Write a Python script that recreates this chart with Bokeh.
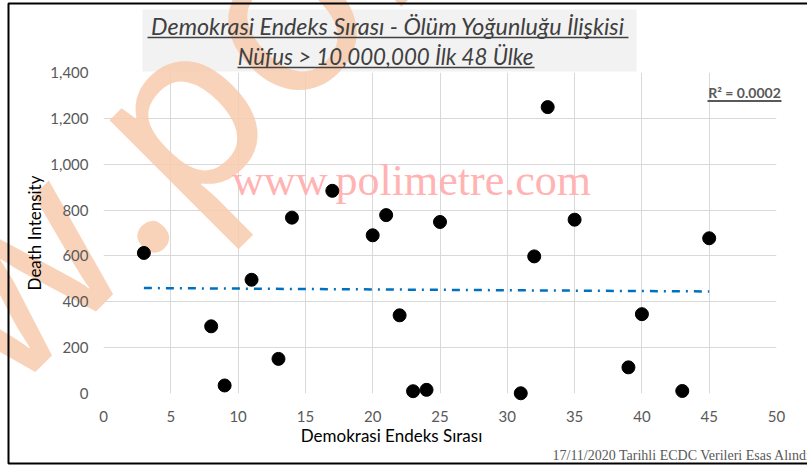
import math
from bokeh.plotting import figure
from bokeh.models import FixedTicker, NumeralTickFormatter
from bokeh.core.properties import value
from bokeh.embed import file_html
from bokeh.resources import INLINE

# ---------------- data ----------------
demokrasi_sirasi = [3, 8, 9, 11, 13, 14, 17, 20, 21, 22, 23, 24, 25, 31, 32, 33, 35, 39, 40, 43, 45]
death_intensity = [613, 293, 35, 496, 151, 767, 884, 690, 778, 341, 10, 16, 748, 1, 598, 1249, 758, 114, 346, 11, 677]
trend_x = [3, 45]
trend_y = [460, 445]
x_ticks = [0, 5, 10, 15, 20, 25, 30, 35, 40, 45, 50]
y_ticks = [0, 200, 400, 600, 800, 1000, 1200, 1400]
title_line1 = "Demokrasi Endeks Sırası - Ölüm Yoğunluğu İlişkisi"
title_line2 = "Nüfus > 10,000,000 İlk 48 Ülke"
r2_text = "R² = 0.0002"
x_label = "Demokrasi Endeks Sırası"
y_label = "Death Intensity"
footer_text = "17/11/2020 Tarihli ECDC Verileri Esas Alındı"
site_text = "www.polimetre.com"

# ---------------- layout ----------------
W, H = 807, 466
MB_L, MB_R, MB_T, MB_B = 103, 31, 72, 73
X0, X1 = 0, 50
Y0, Y1 = 0, 1400

p = figure(width=W, height=H, x_range=(X0, X1), y_range=(Y0, Y1),
           output_backend="svg", toolbar_location=None,
           min_border_left=MB_L, min_border_right=MB_R,
           min_border_top=MB_T, min_border_bottom=MB_B)
p.outline_line_color = None
p.background_fill_color = "white"
p.border_fill_color = "white"

# canvas-pixel -> data helpers (used only to place decorations)
FL, FR = MB_L, W - MB_R
FT, FB = MB_T, H - MB_B


def dx(px):
    return X0 + (px - FL) / (FR - FL) * (X1 - X0)


def dy(py):
    return Y0 + (FB - py) / (FB - FT) * (Y1 - Y0)


def txt(px, py, s, font, size_px, color, align="center", style="normal",
        angle=0.0, alpha=1.0, level="annotation"):
    # (px, py): point on the text's baseline; text is drawn with 'middle' baseline
    off = 0.33 * size_px
    cx = px - off * math.sin(angle)
    cy = py - off * math.cos(angle)
    p.text(x=[dx(cx)], y=[dy(cy)], text=[s], text_font=value(font),
           text_font_size=value(f"{size_px}px"), text_color=color, text_alpha=alpha,
           text_align=align, text_baseline="middle", text_font_style=style,
           angle=angle, level=level)


def hline(px0, px1, py, color, width):
    p.segment(x0=[dx(px0)], y0=[dy(py)], x1=[dx(px1)], y1=[dy(py)],
              line_color=color, line_width=width, level="annotation")


# grid
for g in (p.xgrid, p.ygrid):
    g.grid_line_color = "#d9d9d9"
    g.grid_line_width = 1
p.xgrid.ticker = FixedTicker(ticks=x_ticks)
p.ygrid.ticker = FixedTicker(ticks=y_ticks)

# axes
for ax in (p.xaxis, p.yaxis):
    ax.axis_line_color = None
    ax.major_tick_line_color = None
    ax.minor_tick_line_color = None
    ax.major_tick_in = 0
    ax.major_tick_out = 0
    ax.major_label_text_font = "Lato"
    ax.major_label_text_font_size = "15px"
    ax.major_label_text_color = "#595959"
    ax.level = "overlay"
p.xaxis.ticker = FixedTicker(ticks=x_ticks)
p.yaxis.ticker = FixedTicker(ticks=y_ticks)
p.yaxis.formatter = NumeralTickFormatter(format="0,0")
p.xaxis.major_label_standoff = 17
p.yaxis.major_label_standoff = 15
p.yaxis.axis_label = y_label
p.yaxis.axis_label_text_font = "Lato"
p.yaxis.axis_label_text_font_size = "17px"
p.yaxis.axis_label_text_font_style = "normal"
p.yaxis.axis_label_text_color = "#000000"
p.yaxis.axis_label_standoff = 2

# title background box
p.quad(left=[dx(142)], right=[dx(636)], top=[dy(9)], bottom=[dy(71)],
       fill_color="#f2f2f2", line_color=None, level="guide")

# big orange diagonal watermark
ang = 0.785
txt(130, 258, "www", "Noto Sans", 235, "#f8cbad", align="right",
    angle=ang, alpha=0.85, level="guide")
txt(130, 258, ".polimetre.com", "Noto Sans", 235, "#f8cbad", align="left",
    angle=ang, alpha=0.85, level="guide")

# pink site text
txt(411, 195, site_text, "Liberation Serif", 44, "#ffb3b3", level="guide")

# trend line + points
p.line(trend_x, trend_y, line_color="#0070c0", line_width=2.5, line_dash="8 6 2 6",
       level="annotation")
p.scatter(demokrasi_sirasi, death_intensity, size=13, fill_color="black",
          line_color="black", level="annotation")

# title
txt(387.5, 33, title_line1, "Lato", 23.3, "#404040", style="italic")
hline(147, 628, 37, "#404040", 1.5)
txt(385, 63, title_line2, "Lato", 22.3, "#404040", style="italic")
hline(237, 534, 67, "#404040", 1.5)

# R² label
txt(744, 96.7, r2_text, "Lato", 14, "#595959", style="bold")
hline(707, 781, 100.5, "#595959", 1.8)

# x axis label
txt(391, 440.5, x_label, "Lato", 17, "#000000")

# footer
txt(552, 460, footer_text, "Liberation Serif", 14, "#595959", align="left")

# outer border
p.quad(left=[dx(8)], right=[dx(840)], top=[dy(3)], bottom=[dy(463)],
       fill_alpha=0, line_color="black", line_width=2, level="annotation")

open("out.html", "w").write(file_html(p, INLINE))
